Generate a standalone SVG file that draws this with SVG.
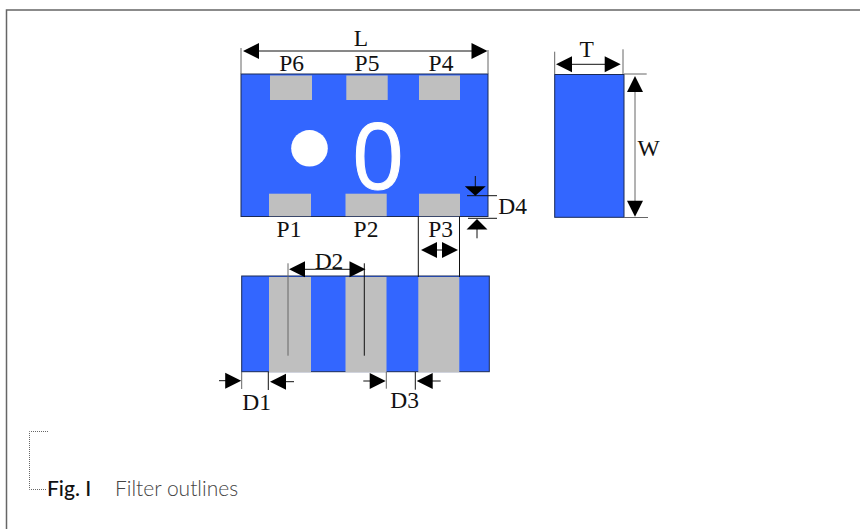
<svg xmlns="http://www.w3.org/2000/svg" width="860" height="529" viewBox="0 0 860 529">
<style>
.b{fill:#3366ff;stroke:#1a2a55;stroke-width:1}
.g{fill:#bfbfbf}
.l{stroke:#111;stroke-width:1;fill:none}
.s{stroke:#666;stroke-width:1;fill:none}
.h{fill:#000}
text.t{font-family:"Liberation Serif","Times New Roman",serif;font-size:23.500px;fill:#111;text-anchor:middle}
text.c{font-family:Lato,"Open Sans",sans-serif;font-size:21px}
</style>
<rect width="860" height="529" fill="#fff"/>
<path id="frame" d="M6.500 529V10H860" fill="none" stroke="#666" stroke-width="1.500"/>
<g id="top-view">
<rect class="b" x="241" y="74" width="247" height="142.500"/>
<rect class="g" x="270" y="75.500" width="42" height="24.500"/>
<rect class="g" x="346.300" y="75.500" width="41.400" height="24.500"/>
<rect class="g" x="419" y="75.500" width="41" height="24.500"/>
<rect class="g" x="269" y="193.700" width="42" height="22.500"/>
<rect class="g" x="345.500" y="193.700" width="41.200" height="22.500"/>
<rect class="g" x="419" y="193.700" width="41" height="22.500"/>
<circle cx="309.500" cy="148.300" r="18.300" fill="#fff"/>
<text x="378" y="188.500" font-family="Open Sans,sans-serif" font-size="92" fill="#fff" stroke="#fff" stroke-width="1" text-anchor="middle">0</text>
</g>
<g id="bottom-view">
<rect class="b" x="241.700" y="276" width="247.600" height="95.700"/>
<rect class="g" x="269" y="277" width="42" height="95"/>
<rect class="g" x="345.500" y="277" width="41" height="95"/>
<rect class="g" x="418.300" y="277" width="41" height="95"/>
</g>
<g id="side-view">
<rect class="b" x="554.700" y="74.500" width="69.300" height="142.800"/>
</g>
<g id="connectors">
<path class="s" d="M241 48V74M488 50V74"/>
<path class="l" d="M250 51H480"/>
<path class="h" d="M243 51l16-8v16zM487.500 51l-16-8v16z"/>
<path class="s" d="M554.700 51.700V74M623 49.300V74M624 74H646.700M624 217.500H648M635 85V208"/>
<path class="l" d="M565 64.300H612"/>
<path class="h" d="M556 64.300l16-8v16zM620.700 64.300l-16-8v16zM635 76l8 16h-16zM635 216.700l8-16h-16z"/>
<path class="l" d="M475.300 176V190M467 195.700H497M468 218.300H497M477 225V238.300"/>
<path class="h" d="M475.300 195.700l-10.500-9.500h21zM477 219l-10.500 10.500h21z"/>
<path class="l" d="M418.300 216.500V277M459.500 216.500V277M430 250H450"/>
<path class="h" d="M421 250l16-8v16zM458 250l-16-8v16z"/>
<path class="s" d="M288 263.300V355.700"/>
<path class="l" d="M364.300 263.300V355.700M295 269.300H358"/>
<path class="h" d="M289 269.300l16-8v16zM365.500 269.300l-16-8v16z"/>
<path class="s" d="M241.700 372V389M386.300 372V388.700"/>
<path class="l" d="M268.300 372V390M415.300 372V389.700M219 380.700H230M282 381.700H294M363.300 381H372M430 381H440.700"/>
<path class="h" d="M241.200 380.700l-16-8v16zM270 381.700l16-8v16zM385.700 381l-16-8v16zM416.700 381l16-8v16z"/>
</g>
<g id="labels">
<text class="t" x="361" y="46">L</text>
<text class="t" x="291.700" y="71">P6</text>
<text class="t" x="367" y="71">P5</text>
<text class="t" x="441" y="71">P4</text>
<text class="t" x="289" y="236.700">P1</text>
<text class="t" x="366" y="236.700">P2</text>
<text class="t" x="440.700" y="236.700">P3</text>
<text class="t" x="329" y="269">D2</text>
<text class="t" x="256.700" y="410">D1</text>
<text class="t" x="404.700" y="408">D3</text>
<text class="t" x="512.700" y="214">D4</text>
<text class="t" x="586.700" y="56.700">T</text>
<text class="t" x="648.500" y="155.700">W</text>
</g>
<g id="caption">
<path d="M48 431.500H29.500V489.500H47" fill="none" stroke="#666" stroke-width="1" stroke-dasharray="1 1"/>
<text class="c" x="47" y="496" fill="#111" font-weight="500">Fig. I</text>
<text class="c" x="115" y="496" fill="#444" font-weight="300">Filter outlines</text>
</g>
</svg>
